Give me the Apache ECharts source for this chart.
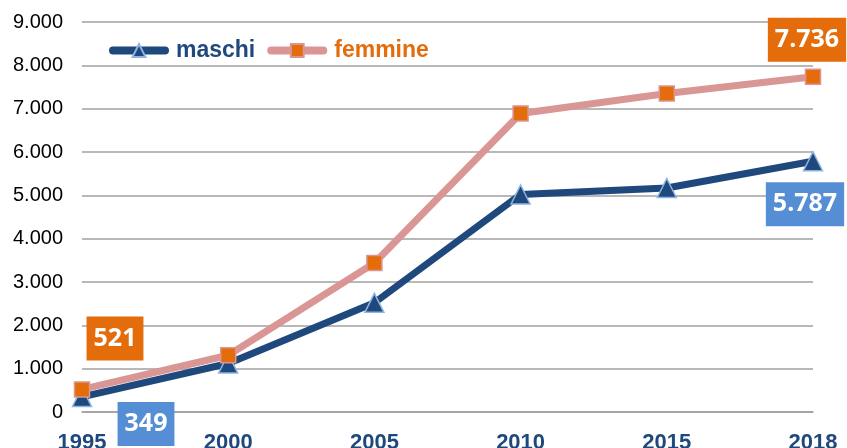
<!DOCTYPE html>
<html>
<head>
<meta charset="utf-8">
<script src="https://cdn.jsdelivr.net/npm/echarts@6/dist/echarts.min.js"></script>
<style>
html, body { margin: 0; padding: 0; background: #fff; }
#chart { width: 847px; height: 448px; }
</style>
</head>
<body>
<div id="chart"></div>
<script>
var anni = ['1995', '2000', '2005', '2010', '2015', '2018'];
var maschi = [349, 1120, 2520, 5020, 5170, 5787];
var femmine = [521, 1310, 3440, 6890, 7350, 7736];

var blu = '#1F497D';
var arancio = '#E46C0A';
var rosa = '#D99694';

function fmt(v) {
    return String(v).replace(/\B(?=(\d{3})+(?!\d))/g, '.');
}

function boxLabel(bg, offset) {
    return {
        show: true,
        position: 'inside',
        offset: offset,
        formatter: function (p) { return fmt(p.value); },
        color: '#fff',
        fontFamily: 'Open Sans',
        fontWeight: 'bold',
        fontSize: 25,
        lineHeight: 26,
        backgroundColor: bg,
        padding: [10, 7, 8, 7]
    };
}

var datiMaschi = maschi.map(function (v, i) {
    if (i === 0) return { value: v, label: boxLabel('#558ED5', [64, 27]) };
    if (i === maschi.length - 1) return { value: v, label: boxLabel('#558ED5', [-8, 43]) };
    return v;
});
var datiFemmine = femmine.map(function (v, i) {
    if (i === 0) return { value: v, label: boxLabel(arancio, [33, -51]) };
    if (i === femmine.length - 1) return { value: v, label: boxLabel(arancio, [-6, -37]) };
    return v;
});

var chart = echarts.init(document.getElementById('chart'));

var option = {
    animation: false,
    legend: {
        left: 104,
        top: 34,
        itemWidth: 52,
        itemHeight: 16,
        itemGap: 12,
        lineStyle: { width: 8, cap: 'round' },
        textStyle: { fontFamily: 'Arial', fontWeight: 'bold', fontSize: 23, padding: [0, 0, 0, 6] },
        data: [
            { name: 'maschi', textStyle: { color: blu } },
            { name: 'femmine', textStyle: { color: arancio } }
        ]
    },
    grid: {
        left: 82,
        right: 34,
        top: 22,
        bottom: 36,
        outerBoundsMode: 'none'
    },
    xAxis: {
        type: 'category',
        boundaryGap: false,
        data: anni,
        axisLine: { lineStyle: { color: '#A0A0A0', width: 1.5 } },
        axisTick: { show: false },
        axisLabel: {
            color: blu,
            fontFamily: 'Arial',
            fontWeight: 'bold',
            fontSize: 22,
            margin: 20
        }
    },
    yAxis: {
        type: 'value',
        min: 0,
        max: 9000,
        interval: 1000,
        axisLine: { show: false },
        axisTick: { show: false },
        splitLine: { lineStyle: { color: '#A0A0A0', width: 1.5 } },
        axisLabel: {
            color: '#000',
            fontFamily: 'Arial',
            fontSize: 20,
            margin: 19,
            formatter: function (v) { return fmt(v); }
        }
    },
    series: [
        {
            name: 'maschi',
            type: 'line',
            data: datiMaschi,
            symbol: 'triangle',
            symbolSize: 19,
            lineStyle: { color: blu, width: 7 },
            itemStyle: { color: blu, borderColor: '#8DB4E2', borderWidth: 1.5 },
            z: 2
        },
        {
            name: 'femmine',
            type: 'line',
            data: datiFemmine,
            symbol: 'rect',
            symbolSize: 15,
            lineStyle: { color: rosa, width: 7 },
            itemStyle: { color: arancio, borderColor: rosa, borderWidth: 1.5 },
            z: 3
        }
    ]
};

chart.setOption(option);
</script>
</body>
</html>
